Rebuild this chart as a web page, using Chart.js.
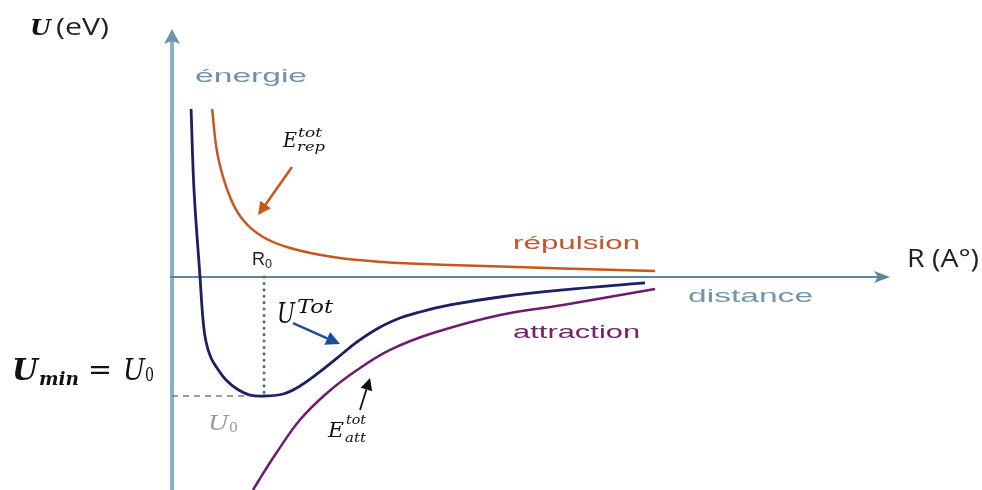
<!DOCTYPE html>
<html>
<head>
<meta charset="utf-8">
<script src="https://cdn.jsdelivr.net/npm/chart.js@4.4.1/dist/chart.umd.min.js"></script>
<style>
  html, body { margin: 0; padding: 0; background: #fff; }
  #wrap { width: 982px; height: 490px; }
</style>
</head>
<body>
<div id="wrap"><canvas id="potential" width="982" height="490"></canvas></div>
<script>
// ─── Curves (R in units of R0, energy in units of |U0|) ─────────────
const rTotal = [0.207, 0.239, 0.304, 0.337, 0.37, 0.424, 0.489, 0.587, 0.707, 0.848, 1.0,
                1.207, 1.391, 1.576, 1.793, 2.011, 2.207, 2.424, 2.696, 3.022, 3.565, 4.25, 5.141];
const uTotal = [1.412, 0.731, 0.0, -0.361, -0.546, -0.681, -0.765, -0.866, -0.941, -0.992, -1.0,
                -0.983, -0.916, -0.815, -0.681, -0.546, -0.445, -0.361, -0.294, -0.235, -0.168, -0.109, -0.050];

const rRep = [0.435, 0.5, 0.63, 0.772, 0.989, 1.283, 1.75, 2.293, 3.022, 3.565, 4.25, 5.25];
const eRep = [1.412, 1.008, 0.672, 0.479, 0.336, 0.244, 0.168, 0.126, 0.101, 0.088, 0.072, 0.050];

const rAtt = [0.88, 1.011, 1.141, 1.391, 1.685, 2.011, 2.37, 2.837, 3.565, 4.25, 5.25];
const eAtt = [-1.79, -1.625, -1.47, -1.2, -0.975, -0.782, -0.613, -0.471, -0.319, -0.235, -0.101];

// equilibrium point
const R0 = 1.0;
const U0 = -1.0;

// visible window
const X_MIN = -1.87, X_MAX = 8.804;
const Y_MIN = -1.79, Y_MAX = 2.328;

const toXY = (xs, ys) => xs.map((x, i) => ({ x, y: ys[i] }));

// ─── Drawing helpers ────────────────────────────────────────────────
function text(ctx, str, x, y, font, color, width) {
  ctx.save();
  ctx.font = font;
  ctx.fillStyle = color;
  ctx.textBaseline = "alphabetic";
  ctx.textAlign = "left";
  const w = ctx.measureText(str).width;
  ctx.translate(x, y);
  if (width) ctx.scale(width / w, 1);
  ctx.fillText(str, 0, 0);
  ctx.restore();
}

function arrow(ctx, x1, y1, x2, y2, color, lw, head) {
  const a = Math.atan2(y2 - y1, x2 - x1);
  const bx = x2 - head * Math.cos(a), by = y2 - head * Math.sin(a);
  ctx.save();
  ctx.strokeStyle = color;
  ctx.fillStyle = color;
  ctx.lineWidth = lw;
  ctx.beginPath();
  ctx.moveTo(x1, y1);
  ctx.lineTo(bx, by);
  ctx.stroke();
  const hw = head * 0.5;
  ctx.beginPath();
  ctx.moveTo(x2, y2);
  ctx.lineTo(bx + hw * Math.sin(a), by - hw * Math.cos(a));
  ctx.lineTo(bx - hw * Math.sin(a), by + hw * Math.cos(a));
  ctx.closePath();
  ctx.fill();
  ctx.restore();
}

// Axes with arrow tips, drawn under the curves
const axesPlugin = {
  id: "axes",
  beforeDatasetsDraw(chart) {
    const { ctx, scales: { x, y } } = chart;
    const ox = x.getPixelForValue(0), oy = y.getPixelForValue(0);
    const yTip = 29, xTip = 890;
    ctx.save();
    // energy axis
    ctx.strokeStyle = "#8eadc4";
    ctx.lineWidth = 4;
    ctx.beginPath();
    ctx.moveTo(ox, chart.height);
    ctx.lineTo(ox, yTip + 10);
    ctx.stroke();
    ctx.fillStyle = "#6f94ae";
    ctx.beginPath();
    ctx.moveTo(ox, yTip);
    ctx.lineTo(ox - 8, yTip + 15);
    ctx.lineTo(ox, yTip + 12);
    ctx.lineTo(ox + 8, yTip + 15);
    ctx.closePath();
    ctx.fill();
    // distance axis
    ctx.strokeStyle = "#5f859e";
    ctx.lineWidth = 2;
    ctx.beginPath();
    ctx.moveTo(ox - 2, oy);
    ctx.lineTo(xTip - 10, oy);
    ctx.stroke();
    ctx.fillStyle = "#5f859e";
    ctx.beginPath();
    ctx.moveTo(xTip, oy);
    ctx.lineTo(xTip - 16, oy - 6);
    ctx.lineTo(xTip - 12, oy);
    ctx.lineTo(xTip - 16, oy + 6);
    ctx.closePath();
    ctx.fill();
    ctx.restore();
  },
};

// Labels, math annotations and pointer arrows
const labelsPlugin = {
  id: "labels",
  afterDatasetsDraw(chart) {
    const { ctx, scales: { x, y } } = chart;
    const px = (v) => x.getPixelForValue(v);
    const py = (v) => y.getPixelForValue(v);
    const serif = "'DejaVu Serif'";
    const sans = "'Liberation Sans'";

    // axis titles
    text(ctx, "U", 30, 35, `bold italic 23px ${serif}`, "#111", 21);
    text(ctx, "(eV)", 56, 35, "23px 'Open Sans'", "#222", 53);
    text(ctx, "R (A°)", 907, 267, "25px 'Open Sans'", "#222", 72);

    // curve names
    text(ctx, "énergie", px(0.25), py(1.639), `19px ${sans}`, "#6f93ab", 112);
    text(ctx, "répulsion", px(3.707), py(0.235), `19px ${sans}`, "#c2552a", 127);
    text(ctx, "attraction", px(3.707), py(-0.513), `19px ${sans}`, "#74216f", 127);
    text(ctx, "distance", px(5.609), py(-0.21), `19px ${sans}`, "#7295ad", 125);

    // R0 tick label
    text(ctx, "R", px(0.87), py(0.101), `18px ${sans}`, "#222", 13);
    text(ctx, "0", px(0.87) + 13, py(0.101) + 3, `12px ${sans}`, "#222", 7);

    // U_min = U_0
    const ux = 12, uy = 380;
    text(ctx, "U", ux, uy, `bold italic 29px ${serif}`, "#111", 26);
    text(ctx, "min", ux + 27, uy + 5, `bold italic 19px ${serif}`, "#111", 40);
    text(ctx, "=", ux + 76, uy - 1, `27px ${serif}`, "#111", 24);
    text(ctx, "U", ux + 111, uy, `italic 29px ${serif}`, "#111", 22);
    text(ctx, "0", ux + 133, uy + 1, `19px ${serif}`, "#111", 9);

    // U0 under the dashed line
    text(ctx, "U", px(0.391), py(-1.286), `italic 20px ${serif}`, "#9a9a9a", 21);
    text(ctx, "0", px(0.391) + 21, py(-1.286) + 2, `13px ${serif}`, "#9a9a9a", 9);

    // E_rep^tot
    let ax = px(1.207), ay = py(1.092);
    text(ctx, "E", ax, ay, `italic 21px ${serif}`, "#111", 14);
    text(ctx, "tot", ax + 15, ay - 10, `italic 13px ${serif}`, "#111", 24);
    text(ctx, "rep", ax + 14, ay + 4, `italic 13px ${serif}`, "#111", 28);

    // U^Tot
    ax = px(1.141); ay = py(-0.387);
    text(ctx, "U", ax, ay, `italic 28px ${serif}`, "#111", 18);
    text(ctx, "Tot", ax + 20, ay - 10, `italic 18px ${serif}`, "#111", 36);

    // E_att^tot
    ax = px(1.696); ay = py(-1.345);
    text(ctx, "E", ax, ay, `italic 21px ${serif}`, "#111", 16);
    text(ctx, "tot", ax + 18, ay - 13, `italic 12px ${serif}`, "#111", 20);
    text(ctx, "att", ax + 17, ay + 5, `italic 12px ${serif}`, "#111", 21);

    // pointers
    arrow(ctx, px(1.304), py(0.924), px(0.935), py(0.521), "#c8561f", 2.5, 13);
    arrow(ctx, px(1.315), py(-0.387), px(1.826), py(-0.563), "#1f4c9c", 2.5, 14);
    arrow(ctx, px(2.043), py(-1.118), px(2.152), py(-0.849), "#111", 1.8, 12);
  },
};

const curve = (label, data, color, width) => ({
  label,
  data,
  showLine: true,
  borderColor: color,
  borderWidth: width,
  tension: 0.4,
  pointRadius: 0,
});

new Chart(document.getElementById("potential"), {
  type: "scatter",
  data: {
    datasets: [
      {
        // U0 level
        data: [{ x: 0, y: U0 }, { x: 0.85, y: U0 }],
        showLine: true,
        borderColor: "#7a7a7a",
        borderWidth: 1.5,
        borderDash: [6, 5],
        pointRadius: 0,
      },
      {
        // R0 position
        data: [{ x: R0, y: 0 }, { x: R0, y: -0.97 }],
        showLine: true,
        borderColor: "#666",
        borderWidth: 3,
        borderDash: [0.1, 6.3],
        borderCapStyle: "round",
        pointRadius: 0,
      },
      curve("répulsion", toXY(rRep, eRep), "#c8561f", 2.5),
      curve("attraction", toXY(rAtt, eAtt), "#6c1c70", 2.5),
      curve("U total", toXY(rTotal, uTotal), "#1b1f66", 2.8),
    ],
  },
  options: {
    responsive: false,
    animation: false,
    layout: { padding: 0 },
    plugins: { legend: { display: false }, tooltip: { enabled: false } },
    scales: {
      x: { type: "linear", display: false, min: X_MIN, max: X_MAX },
      y: { type: "linear", display: false, min: Y_MIN, max: Y_MAX },
    },
  },
  plugins: [axesPlugin, labelsPlugin],
});
</script>
</body>
</html>
